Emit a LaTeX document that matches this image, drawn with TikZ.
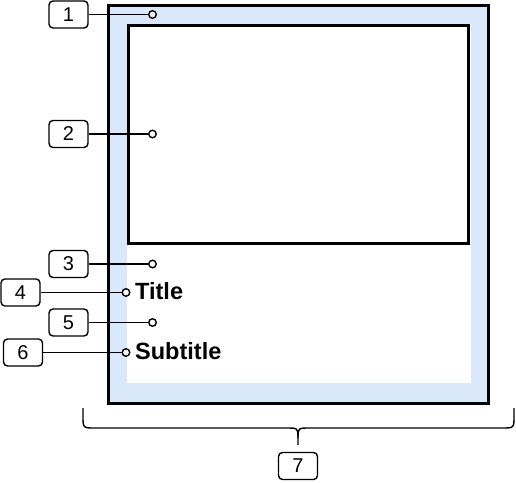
\documentclass[tikz,border=0pt]{standalone}
\usepackage{fontspec}
\setmainfont{Liberation Sans}
\definecolor{panelblue}{HTML}{DAE8FC}
\begin{document}
\begin{tikzpicture}[x=1pt,y=-1pt,
  numbox/.style={draw,line width=1.4pt,rounded corners=4pt,minimum width=39pt,minimum height=27pt,inner sep=0pt,font=\fontsize{20}{20}\selectfont},
  pin/.style={circle,draw,fill=white,line width=1.4pt,inner sep=0pt,minimum size=7.5pt},
  lead/.style={line width=1.4pt},
  heading/.style={anchor=base west,inner sep=0pt,font=\fontsize{23.5}{23.5}\selectfont\bfseries}]
\useasboundingbox (0,0) rectangle (516,482);
% frame
\draw[line width=3pt,fill=panelblue] (108.5,5) rectangle (488.5,403.5);
\fill[white] (127,24) rectangle (470.5,383);
\draw[line width=3pt,fill=white] (128.5,25) rectangle (468.5,243.5);
% pins
\node[pin] (p1) at (152.5,14.5) {};
\node[pin] (p2) at (152.5,134) {};
\node[pin] (p3) at (152.5,264) {};
\node[pin] (p4) at (126,292.5) {};
\node[pin] (p5) at (152.5,322.5) {};
\node[pin] (p6) at (126,352.5) {};
% texts
\node[heading] (title) at (135,299) {Title};
\node[heading] (subtitle) at (135,359) {Subtitle};
% number boxes
\node[numbox] (n1) at (68.5,14.5) {1};
\node[numbox] (n2) at (68.5,134) {2};
\node[numbox] (n3) at (68.5,264) {3};
\node[numbox] (n4) at (20.5,292.5) {4};
\node[numbox] (n5) at (68.5,322.5) {5};
\node[numbox] (n6) at (23,352.5) {6};
\node[numbox] (n7) at (298,466) {7};
% leads
\draw[lead] (n1.east) -- (p1.west);
\draw[lead] (n2.east) -- (p2.west);
\draw[lead] (n3.east) -- (p3.west);
\draw[lead] (n4.east) -- (p4.west);
\draw[lead] (n5.east) -- (p5.west);
\draw[lead] (n6.east) -- (p6.west);
% brace
\coordinate (btip) at (298,445);
\draw[line width=1.4pt] (83,408) -- (83,416) .. controls (83,428) .. (95,428)
  -- (286,428) .. controls (298,428) .. (298,438) -- (btip);
\draw[line width=1.4pt] (514,408) -- (514,416) .. controls (514,428) .. (502,428)
  -- (310,428) .. controls (298,428) .. (298,438);
\end{tikzpicture}
\end{document}
